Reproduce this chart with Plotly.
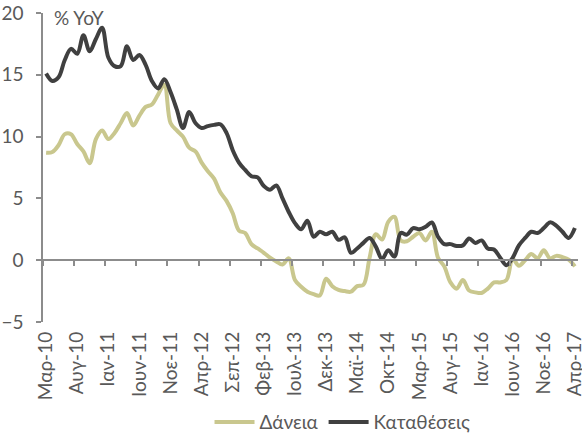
import plotly.graph_objects as go

# Μηνιαία στοιχεία, Μαρ-10 έως Απρ-17 (% ΥοΥ)
greek_months = ["Ιαν", "Φεβ", "Μαρ", "Απρ", "Μαϊ", "Ιουν",
                "Ιουλ", "Αυγ", "Σεπ", "Οκτ", "Νοε", "Δεκ"]
months = [f"{greek_months[(2 + k) % 12]}-{10 + (2 + k) // 12}" for k in range(86)]
month_idx = list(range(len(months)))

loans = [
    8.7, 8.75, 9.3, 10.2, 10.2, 9.4, 8.8, 7.85, 9.8, 10.5,
    9.8, 10.3, 11.1, 11.9, 10.9, 11.7, 12.4, 12.6, 13.4, 14.2,
    11.1, 10.5, 10.0, 9.1, 8.8, 7.9, 7.2, 6.6, 5.5, 4.8,
    3.8, 2.4, 2.2, 1.3, 0.95, 0.6, 0.2, -0.1, -0.35, 0.15,
    -1.6, -2.15, -2.55, -2.75, -2.85, -1.5, -2.1, -2.4, -2.5, -2.55,
    -2.1, -2.0, 0.2, 2.1, 1.67, 3.1, 3.5, 1.6, 1.53, 1.9,
    2.2, 1.6, 2.3, 0.2, -0.5, -1.8, -2.3, -1.6, -2.45, -2.6,
    -2.65, -2.3, -1.8, -1.8, -1.6, 0.1, -0.45, 0.0, 0.5, 0.15,
    0.8, 0.15, 0.35, 0.25, 0.05, -0.5,
]

deposits = [
    15.1, 14.5, 14.8, 16.2, 17.1, 16.7, 18.2, 16.9, 17.9, 18.8,
    16.4, 15.7, 15.7, 17.3, 16.2, 16.6, 15.8, 14.5, 13.9, 14.65,
    13.6, 12.2, 10.7, 12.0, 11.1, 10.7, 10.85, 10.95, 11.0, 10.3,
    8.9, 7.9, 7.3, 6.8, 6.7, 6.0, 5.7, 6.05, 5.0, 3.9,
    3.0, 2.5, 3.2, 1.9, 2.3, 2.1, 2.3, 1.65, 1.85, 0.6,
    0.95, 1.4, 1.8, 1.1, 0.1, 0.8, 0.3, 2.2, 2.07, 2.6,
    2.5, 2.7, 3.05, 1.9, 1.3, 1.3, 1.15, 1.2, 1.75, 1.4,
    1.6, 0.95, 0.86, 0.2, -0.4, 0.2, 1.2, 1.8, 2.3, 2.2,
    2.6, 3.06, 2.8, 2.3, 1.8, 2.6,
]

label_idx = month_idx[::5]
tick_labels = [months[i] for i in label_idx]

FONT = "Lato, Open Sans, sans-serif"
TXT = "#595959"
AX = "#8c8c8c"

fig = go.Figure()
fig.add_trace(go.Scatter(
    x=month_idx, y=loans, name="Δάνεια", mode="lines",
    line=dict(color="#c9c78e", width=4, shape="spline")))
fig.add_trace(go.Scatter(
    x=month_idx, y=deposits, name="Καταθέσεις", mode="lines",
    line=dict(color="#404040", width=4, shape="spline")))
# κενό trace για τον άξονα με τις υποδιαιρέσεις στο μηδέν
fig.add_trace(go.Scatter(x=[None], y=[None], xaxis="x2",
                         showlegend=False, hoverinfo="skip"))

fig.update_layout(
    width=582, height=436,
    margin=dict(l=43, r=4, t=13, b=114),
    paper_bgcolor="white", plot_bgcolor="white",
    font=dict(family=FONT, size=19, color=TXT),
    showlegend=True,
    legend=dict(orientation="h", xref="container", yref="container",
                x=0.36, xanchor="left", y=0.032, yanchor="middle",
                font=dict(size=19, color=TXT), itemwidth=40),
    xaxis=dict(range=[-0.5, 85.5], tickmode="array",
               tickvals=label_idx, ticktext=tick_labels,
               tickangle=-90, ticks="", showline=False,
               ticklabelstandoff=5,
               ticklabeloverflow="allow", automargin=False,
               showgrid=False, zeroline=False),
    xaxis2=dict(range=[-0.5, 85.5], overlaying="x", anchor="free",
                position=0.2, side="bottom", showline=True,
                linecolor=AX, linewidth=1.5, automargin=False,
                tickmode="array",
                tickvals=[-0.5 + 5 * k for k in range(18)],
                ticks="outside", ticklen=5, tickcolor=AX, tickwidth=1.5,
                showticklabels=False, showgrid=False, zeroline=False),
    yaxis=dict(range=[-5, 20], tickvals=[-5, 0, 5, 10, 15, 20],
               ticks="outside", ticklen=5, tickcolor=AX, tickwidth=1.5,
               showline=True, linecolor=AX, linewidth=1.5,
               ticklabelstandoff=9,
               automargin=False, ticklabeloverflow="allow",
               showgrid=False, zeroline=False),
    annotations=[dict(text="% YoY", xref="paper", yref="paper",
                      x=0.017, y=0.987, xanchor="left", yanchor="middle",
                      showarrow=False, font=dict(size=19, color=TXT))],
)

# χωρίς περιθώριο στη σελίδα, ώστε το σχήμα να ξεκινά από (0, 0)
fig.write_html(
    "out.html",
    config={"displayModeBar": False},
    post_script="document.body.style.margin='0';"
                "document.body.style.overflow='hidden';")
